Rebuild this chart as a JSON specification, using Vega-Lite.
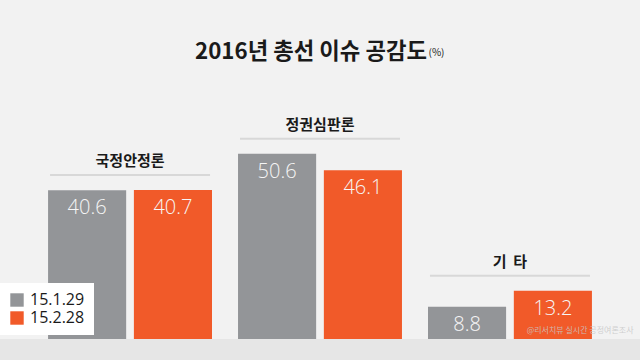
{
  "$schema": "https://vega.github.io/schema/vega-lite/v6.json",
  "width": 640,
  "height": 339,
  "autosize": "none",
  "padding": {"left": 0, "right": 0, "top": 0, "bottom": 21},
  "background": "#e6e6e6",
  "config": {
    "view": {"stroke": null, "fill": "#f2f2f2"},
    "font": "Noto Sans CJK KR"
  },
  "title": {
    "text": "2016년 총선 이슈 공감도",
    "anchor": "middle",
    "frame": "group",
    "orient": "top",
    "offset": -74,
    "baseline": "middle",
    "dx": -9,
    "fontSize": 22.3,
    "fontWeight": "bold",
    "color": "#1a1a1a",
    "font": "Noto Sans CJK KR"
  },
  "data": {
    "values": [
      {"group": "국정안정론", "series": "15.1.29", "value": 40.6},
      {"group": "국정안정론", "series": "15.2.28", "value": 40.7},
      {"group": "정권심판론", "series": "15.1.29", "value": 50.6},
      {"group": "정권심판론", "series": "15.2.28", "value": 46.1},
      {"group": "기 \u00a0타", "series": "15.1.29", "value": 8.8},
      {"group": "기 \u00a0타", "series": "15.2.28", "value": 13.2}
    ]
  },
  "layer": [
    {
      "mark": {"type": "bar"},
      "encoding": {
        "x": {
          "field": "group", "type": "nominal", "sort": null,
          "title": "@리서치뷰 실시간 공정여론조사",
          "scale": {"paddingInner": 0.137, "paddingOuter": 0.253},
          "axis": {"labels": false, "ticks": false, "domain": false, "grid": false, "zindex": 1,
            "titleX": 633, "titleY": -9, "titleAlign": "right", "titleBaseline": "middle",
            "titleFontSize": 8, "titleFontWeight": "normal", "titleColor": "#c8c8c8", "titleOpacity": 0.85, "titlePadding": 0}
        },
        "xOffset": {"field": "series", "type": "nominal", "sort": ["15.1.29", "15.2.28"], "scale": {"paddingInner": 0.09}},
        "y": {
          "field": "value", "type": "quantitative", "title": "(%)",
          "scale": {"domain": [0, 92.6], "nice": false},
          "axis": {"labels": false, "ticks": false, "domain": false, "grid": false,
            "titleAngle": 0, "titleX": 428, "titleY": 52, "titleAlign": "left", "titleBaseline": "middle",
            "titleFontSize": 10, "titleFontWeight": "normal", "titleColor": "#1a1a1a", "titlePadding": 0}
        },
        "color": {
          "field": "series", "type": "nominal",
          "scale": {"domain": ["15.1.29", "15.2.28"], "range": ["#939598", "#f15a29"]},
          "legend": {
            "title": null, "orient": "none", "legendX": 0, "legendY": 283,
            "fillColor": "#ffffff", "padding": 9,
            "symbolType": "square", "symbolSize": 180, "symbolStrokeWidth": 0,
            "labelFontSize": 16, "labelColor": "#1a1a1a", "labelFont": "Open Sans", "rowPadding": 2, "labelOffset": 5
          }
        }
      }
    },
    {
      "mark": {"type": "text", "baseline": "middle", "dy": 18, "fontSize": 20, "fontWeight": 300, "color": "#f6f6f6", "font": "Open Sans"},
      "encoding": {
        "x": {"field": "group", "type": "nominal", "sort": null, "title": "@리서치뷰 실시간 공정여론조사"},
        "xOffset": {"field": "series", "type": "nominal", "sort": ["15.1.29", "15.2.28"]},
        "y": {"field": "value", "type": "quantitative", "title": "(%)"},
        "text": {"field": "value", "type": "quantitative", "format": ".1f"}
      }
    },
    {
      "mark": {"type": "tick", "orient": "horizontal", "size": 160, "thickness": 2, "yOffset": -15, "color": "#d8d8d8"},
      "encoding": {
        "x": {"field": "group", "type": "nominal", "sort": null, "title": "@리서치뷰 실시간 공정여론조사"},
        "y": {"aggregate": "max", "field": "value", "type": "quantitative", "title": "(%)"}
      }
    },
    {
      "mark": {"type": "text", "baseline": "middle", "dy": -29, "fontSize": 15, "fontWeight": "bold", "color": "#1a1a1a"},
      "encoding": {
        "x": {"field": "group", "type": "nominal", "sort": null, "title": "@리서치뷰 실시간 공정여론조사"},
        "y": {"aggregate": "max", "field": "value", "type": "quantitative", "title": "(%)"},
        "text": {"field": "group", "type": "nominal"}
      }
    }
  ]
}
